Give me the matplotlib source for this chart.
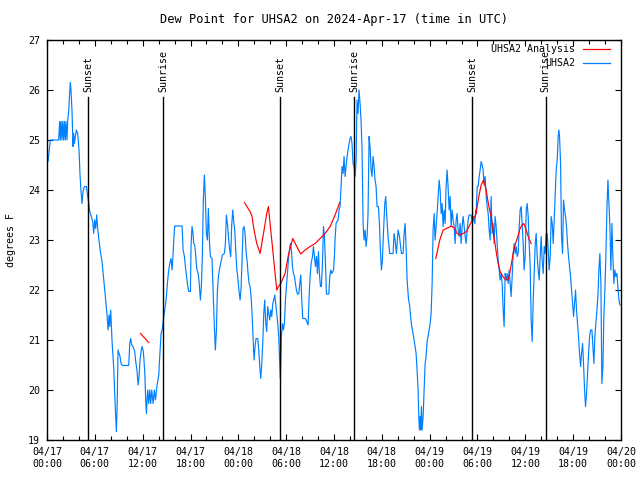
import numpy as np
import matplotlib
matplotlib.use("Agg")
import matplotlib.pyplot as plt

# hours since 2024-04-17 00:00 UTC, dew point (F)
blue_obs = [
    (0.13, 24.57), (0.33, 24.87), (0.42, 25.0), (1.46, 25.0), (1.59, 25.37), (1.67, 25.0),
    (1.76, 25.37), (1.88, 25.0), (1.97, 25.37), (2.09, 25.0), (2.18, 25.37), (2.30, 25.0),
    (2.38, 25.37), (2.51, 25.0), (2.59, 25.37), (2.72, 25.57), (2.85, 25.97), (2.93, 26.15),
    (3.01, 26.0), (3.14, 25.57), (3.26, 24.87), (3.35, 25.13), (3.43, 24.93), (3.56, 25.07),
    (3.68, 25.2), (3.85, 25.13), (4.02, 24.8), (4.14, 24.3), (4.27, 23.97), (4.39, 23.73),
    (4.52, 23.97), (4.69, 24.07), (4.94, 24.07), (5.06, 23.92), (5.23, 23.75), (5.36, 23.57),
    (5.52, 23.49), (5.73, 23.37), (5.86, 23.13), (5.98, 23.4), (6.11, 23.23), (6.23, 23.5),
    (6.36, 23.23), (6.49, 23.03), (6.69, 22.77), (6.90, 22.57), (7.11, 22.23), (7.32, 21.87),
    (7.53, 21.5), (7.66, 21.2), (7.78, 21.5), (7.87, 21.27), (7.99, 21.6), (8.16, 20.97),
    (8.37, 20.45), (8.49, 19.93), (8.62, 19.43), (8.70, 19.17), (8.79, 19.6), (8.91, 20.8),
    (9.04, 20.73), (9.16, 20.67), (9.29, 20.53), (9.46, 20.49), (10.25, 20.49), (10.38, 20.93),
    (10.50, 21.03), (10.63, 20.9), (10.79, 20.87), (11.00, 20.77), (11.13, 20.57), (11.30, 20.37),
    (11.42, 20.1), (11.55, 20.27), (11.67, 20.6), (11.80, 20.77), (11.92, 20.87), (12.05, 20.8),
    (12.13, 20.67), (12.26, 20.37), (12.38, 19.8), (12.47, 19.53), (12.55, 19.8), (12.64, 20.0),
    (12.76, 19.73), (12.89, 20.0), (13.01, 19.73), (13.14, 20.0), (13.31, 19.73), (13.47, 20.0),
    (13.60, 19.8), (13.81, 20.1), (14.02, 20.3), (14.14, 20.67), (14.31, 21.13), (14.48, 21.23),
    (14.64, 21.47), (14.85, 21.7), (14.98, 21.87), (15.10, 22.13), (15.27, 22.4), (15.40, 22.53),
    (15.56, 22.63), (15.69, 22.4), (15.82, 22.73), (15.90, 23.0), (16.02, 23.28), (16.95, 23.28),
    (17.07, 22.8), (17.24, 22.67), (17.36, 22.47), (17.49, 22.3), (17.61, 22.13), (17.78, 21.97),
    (17.99, 21.97), (18.07, 22.9), (18.19, 23.27), (18.32, 23.13), (18.40, 22.93), (18.53, 22.9),
    (18.65, 22.7), (18.78, 22.43), (18.99, 22.3), (19.11, 22.1), (19.24, 21.8), (19.36, 22.07),
    (19.49, 22.7), (19.61, 23.8), (19.74, 24.3), (19.86, 23.87), (19.99, 23.13), (20.12, 23.0),
    (20.24, 23.63), (20.37, 23.0), (20.49, 22.67), (20.70, 22.63), (20.87, 21.8), (20.99, 21.27),
    (21.12, 20.8), (21.25, 21.2), (21.37, 21.97), (21.50, 22.27), (21.62, 22.4), (21.83, 22.57),
    (22.00, 22.7), (22.25, 22.73), (22.38, 22.93), (22.50, 23.5), (22.67, 23.27), (22.79, 23.0),
    (22.92, 22.8), (23.04, 22.67), (23.17, 23.3), (23.30, 23.6), (23.42, 23.37), (23.55, 23.2),
    (23.67, 22.8), (23.80, 22.43), (23.92, 22.27), (24.09, 21.97), (24.22, 21.8), (24.34, 22.03),
    (24.47, 22.6), (24.59, 23.23), (24.72, 23.27), (24.84, 23.13), (24.97, 22.77), (25.09, 22.6),
    (25.22, 22.33), (25.35, 22.13), (25.47, 22.07), (25.60, 21.87), (25.72, 21.53), (25.85, 21.07),
    (25.97, 20.6), (26.10, 20.87), (26.22, 21.03), (26.43, 21.03), (26.56, 20.8), (26.69, 20.47),
    (26.81, 20.23), (26.94, 20.53), (27.06, 20.93), (27.19, 21.53), (27.31, 21.8), (27.44, 21.33),
    (27.56, 21.17), (27.69, 21.67), (27.81, 21.53), (27.94, 21.4), (28.07, 21.6), (28.19, 21.47),
    (28.32, 21.73), (28.44, 21.8), (28.57, 21.9), (28.69, 21.73), (28.82, 21.53), (28.94, 21.33),
    (29.07, 21.07), (29.19, 20.53), (29.28, 20.23), (29.40, 21.07), (29.53, 21.33), (29.66, 21.2),
    (29.78, 21.33), (29.91, 21.8), (30.03, 22.07), (30.16, 22.33), (30.28, 22.6), (30.41, 22.8),
    (30.53, 22.93), (30.66, 22.8), (30.79, 22.47), (30.91, 22.33), (31.04, 22.27), (31.16, 22.13),
    (31.29, 22.0), (31.41, 21.92), (31.58, 21.92), (31.71, 22.13), (31.83, 22.3), (31.96, 21.8),
    (32.08, 21.43), (32.42, 21.43), (32.58, 21.37), (32.75, 21.3), (32.88, 21.87), (33.00, 22.27),
    (33.13, 22.53), (33.30, 22.67), (33.42, 22.87), (33.55, 22.67), (33.67, 22.47), (33.80, 22.67),
    (33.92, 22.33), (34.05, 22.77), (34.17, 22.33), (34.30, 22.07), (34.42, 22.07), (34.55, 22.53),
    (34.68, 23.27), (34.80, 23.07), (34.93, 22.53), (35.05, 21.92), (35.35, 21.92), (35.47, 22.27),
    (35.60, 22.4), (35.72, 22.33), (35.85, 22.37), (35.95, 22.4), (36.05, 22.67), (36.13, 23.0),
    (36.26, 23.33), (36.38, 23.37), (36.51, 23.4), (36.63, 23.6), (36.76, 23.67), (36.88, 24.07),
    (37.01, 24.47), (37.14, 24.33), (37.26, 24.67), (37.39, 24.27), (37.51, 24.47), (37.64, 24.67),
    (37.76, 24.8), (37.89, 24.93), (38.01, 25.03), (38.14, 25.07), (38.26, 24.93), (38.39, 24.53),
    (38.52, 24.47), (38.64, 24.27), (38.77, 24.57), (38.89, 25.8), (39.02, 25.53), (39.14, 26.0),
    (39.27, 25.73), (39.39, 25.4), (39.52, 24.8), (39.65, 23.33), (39.77, 23.0), (39.90, 23.2),
    (40.02, 22.87), (40.15, 23.07), (40.27, 23.53), (40.40, 25.07), (40.52, 24.87), (40.65, 24.4),
    (40.77, 24.27), (40.90, 24.67), (41.03, 24.47), (41.15, 24.2), (41.28, 24.07), (41.40, 23.67),
    (41.57, 23.67), (41.70, 23.33), (41.82, 22.8), (41.95, 22.4), (42.07, 22.6), (42.20, 23.13),
    (42.37, 23.73), (42.49, 23.87), (42.62, 23.47), (42.78, 23.07), (42.99, 22.73), (43.41, 22.73),
    (43.54, 23.13), (43.66, 23.0), (43.83, 22.73), (44.04, 23.2), (44.21, 23.07), (44.46, 22.73),
    (44.67, 22.73), (44.79, 23.13), (44.92, 23.33), (45.04, 22.87), (45.17, 22.2), (45.34, 21.83),
    (45.50, 21.67), (45.63, 21.43), (45.75, 21.27), (45.92, 21.13), (46.05, 21.0), (46.17, 20.87),
    (46.30, 20.73), (46.42, 20.4), (46.55, 20.0), (46.63, 19.47), (46.72, 19.2), (46.80, 19.47),
    (46.88, 19.2), (46.97, 19.67), (47.05, 19.2), (47.18, 19.47), (47.30, 20.0), (47.43, 20.53),
    (47.55, 20.67), (47.68, 20.97), (47.80, 21.07), (47.93, 21.2), (48.06, 21.33), (48.18, 21.53),
    (48.31, 22.13), (48.43, 23.2), (48.56, 23.53), (48.68, 23.0), (48.81, 23.27), (48.93, 23.53),
    (49.06, 23.87), (49.19, 24.2), (49.31, 24.0), (49.44, 23.53), (49.56, 23.73), (49.69, 23.27),
    (49.81, 23.6), (49.94, 23.33), (50.06, 24.07), (50.19, 24.4), (50.31, 24.07), (50.44, 23.6),
    (50.57, 23.87), (50.69, 23.27), (50.82, 23.6), (50.94, 23.4), (51.07, 23.27), (51.19, 22.93),
    (51.32, 23.4), (51.44, 23.53), (51.57, 23.2), (51.70, 23.07), (51.82, 23.33), (51.95, 22.93),
    (52.07, 23.27), (52.20, 23.47), (52.32, 23.27), (52.45, 23.07), (52.57, 22.93), (52.70, 23.2),
    (52.83, 23.4), (52.95, 23.5), (53.20, 23.5), (53.33, 23.37), (53.45, 23.47), (53.66, 23.33),
    (53.79, 23.6), (53.83, 23.53), (53.96, 24.07), (54.08, 24.07), (54.21, 24.27), (54.33, 24.4),
    (54.46, 24.57), (54.58, 24.5), (54.71, 24.4), (54.83, 24.1), (54.96, 24.27), (55.09, 23.87),
    (55.21, 23.67), (55.34, 23.53), (55.46, 23.2), (55.59, 23.0), (55.71, 23.87), (55.84, 23.13),
    (55.96, 23.33), (56.09, 22.93), (56.21, 23.47), (56.34, 23.27), (56.47, 22.93), (56.59, 22.6),
    (56.72, 22.4), (56.84, 22.2), (56.97, 22.33), (57.09, 22.13), (57.22, 21.6), (57.34, 21.27),
    (57.47, 22.33), (57.60, 22.2), (57.72, 22.33), (57.85, 22.13), (57.97, 22.4), (58.10, 22.13),
    (58.22, 21.87), (58.35, 22.27), (58.47, 22.73), (58.60, 22.93), (58.73, 22.73), (58.85, 22.87),
    (58.98, 22.67), (59.10, 22.73), (59.23, 23.27), (59.35, 23.6), (59.48, 23.67), (59.60, 23.33),
    (59.73, 22.93), (59.85, 22.4), (59.98, 22.67), (60.11, 23.6), (60.23, 23.73), (60.36, 23.47),
    (60.48, 22.93), (60.61, 22.47), (60.73, 21.4), (60.86, 20.97), (60.98, 21.73), (61.11, 22.33),
    (61.24, 22.93), (61.36, 23.13), (61.49, 22.67), (61.61, 22.4), (61.74, 22.2), (61.86, 22.67),
    (61.99, 23.07), (62.11, 22.6), (62.24, 22.33), (62.37, 22.87), (62.49, 22.73), (62.62, 23.13),
    (62.74, 23.13), (62.87, 22.8), (62.99, 22.4), (63.12, 22.67), (63.24, 23.47), (63.37, 23.33),
    (63.50, 22.93), (63.62, 23.4), (63.75, 23.87), (63.87, 24.4), (64.00, 24.6), (64.12, 25.07),
    (64.21, 25.2), (64.29, 25.07), (64.42, 24.53), (64.54, 23.07), (64.67, 22.73), (64.79, 23.8),
    (64.92, 23.6), (65.04, 23.47), (65.17, 23.27), (65.29, 22.93), (65.42, 22.67), (65.55, 22.47),
    (65.67, 22.27), (65.80, 22.0), (65.92, 21.73), (66.05, 21.47), (66.17, 21.73), (66.30, 22.0),
    (66.42, 21.6), (66.55, 21.33), (66.67, 21.07), (66.80, 20.73), (66.93, 20.47), (67.05, 20.73),
    (67.18, 20.93), (67.30, 20.53), (67.43, 20.0), (67.55, 19.67), (67.68, 19.93), (67.80, 20.33),
    (67.93, 20.73), (68.06, 21.07), (68.18, 21.2), (68.35, 21.2), (68.47, 20.87), (68.60, 20.53),
    (68.72, 21.07), (68.85, 21.33), (68.98, 21.6), (69.10, 21.87), (69.23, 22.4), (69.35, 22.73),
    (69.48, 22.13), (69.60, 20.13), (69.73, 20.47), (69.85, 21.47), (69.98, 22.0), (70.10, 22.67),
    (70.23, 23.6), (70.36, 24.2), (70.48, 23.73), (70.61, 23.27), (70.73, 22.4), (70.86, 23.33),
    (70.98, 22.67), (71.11, 22.13), (71.23, 22.4), (71.36, 22.27), (71.48, 22.33), (71.61, 22.07),
    (71.74, 21.8), (71.86, 21.7),
]

# analysis series, separate pieces
analysis_a = [(11.72, 21.13), (12.76, 20.95)]
analysis_b = [
    (24.76, 23.75), (25.47, 23.57), (25.72, 23.47), (25.97, 23.2), (26.31, 22.93), (26.73, 22.73),
    (26.94, 22.93), (27.23, 23.2), (27.56, 23.53), (27.77, 23.67), (27.98, 23.33), (28.32, 22.8),
    (28.61, 22.33), (28.82, 22.0), (29.03, 22.07), (29.32, 22.13), (29.86, 22.33), (30.28, 22.7),
    (30.83, 23.03), (31.33, 22.87), (31.83, 22.72), (32.37, 22.8), (33.00, 22.87), (33.63, 22.93),
    (34.26, 23.03), (34.89, 23.13), (35.51, 23.27), (36.06, 23.47), (36.72, 23.75),
]
analysis_c = [
    (48.77, 22.63), (49.27, 23.0), (49.69, 23.2), (50.11, 23.23), (50.73, 23.28), (51.15, 23.23),
    (51.44, 23.13), (51.78, 23.1), (52.20, 23.13), (52.62, 23.17), (53.12, 23.33), (53.66, 23.47),
    (53.83, 23.53), (54.16, 23.87), (54.46, 24.1), (54.75, 24.2), (55.09, 24.0), (55.42, 23.67),
    (55.71, 23.47), (56.01, 23.13), (56.34, 22.77), (56.59, 22.53), (56.84, 22.37), (57.18, 22.27),
    (57.51, 22.21), (57.80, 22.2), (58.01, 22.3), (58.26, 22.53), (58.52, 22.77), (58.77, 22.93),
    (59.06, 23.07), (59.27, 23.2), (59.56, 23.3), (59.81, 23.33), (60.11, 23.2), (60.44, 23.03),
    (60.73, 22.93),
]

sun_hours = [5.19, 14.6, 29.28, 38.56, 53.37, 62.53]
sun_names = ["Sunset", "Sunrise", "Sunset", "Sunrise", "Sunset", "Sunrise"]

xtick_hours = [0, 6, 12, 18, 24, 30, 36, 42, 48, 54, 60, 66, 72]
xtick_labels = ["04/17\n00:00", "04/17\n06:00", "04/17\n12:00", "04/17\n18:00",
                "04/18\n00:00", "04/18\n06:00", "04/18\n12:00", "04/18\n18:00",
                "04/19\n00:00", "04/19\n06:00", "04/19\n12:00", "04/19\n18:00",
                "04/20\n00:00"]

plt.rcParams['font.family'] = ['DejaVu Sans Mono']
plt.rcParams['font.size'] = 7.2

fig = plt.figure(figsize=(6.4, 4.8), dpi=100)
ax = fig.add_axes([47/640, 40/480, 574/640, 400/480])

bt, bv = zip(*blue_obs)
ax.plot(bt, bv, color='#0080ff', lw=0.85)
for seg in (analysis_a, analysis_b, analysis_c):
    st, sv = zip(*seg)
    ax.plot(st, sv, color='#ff0000', lw=0.85)

for h, name in zip(sun_hours, sun_names):
    ax.plot([h, h], [19, 25.86], color='black', lw=1.0)
    ax.text(h, 25.96, name, rotation=90, ha='center', va='bottom')

ax.set_xlim(0, 72)
ax.set_ylim(19, 27)
ax.set_xticks(xtick_hours)
ax.set_xticklabels(xtick_labels)
ax.set_xticks(np.arange(0, 73, 2), minor=True)
ax.set_yticks(range(19, 28))
ax.tick_params(which='both', direction='in', top=True, right=True, width=0.8)
ax.tick_params(which='major', length=4.5)
ax.tick_params(which='minor', length=3)
ax.tick_params(axis='x', pad=5)
ax.tick_params(axis='y', pad=5)
for s in ax.spines.values():
    s.set_linewidth(1.0)

ax.set_ylabel("degrees F", labelpad=9)
ax.set_title("Dew Point for UHSA2 on 2024-Apr-17 (time in UTC)", pad=12)

# key, top right
ax.text(0.92, 0.9775, "UHSA2 Analysis", transform=ax.transAxes, ha='right', va='center')
ax.plot([0.934, 0.981], [0.9775, 0.9775], transform=ax.transAxes, color='#ff0000', lw=0.9)
ax.text(0.92, 0.9425, "UHSA2", transform=ax.transAxes, ha='right', va='center')
ax.plot([0.934, 0.981], [0.9425, 0.9425], transform=ax.transAxes, color='#0080ff', lw=0.9)

fig.savefig("out.png", dpi=100)
